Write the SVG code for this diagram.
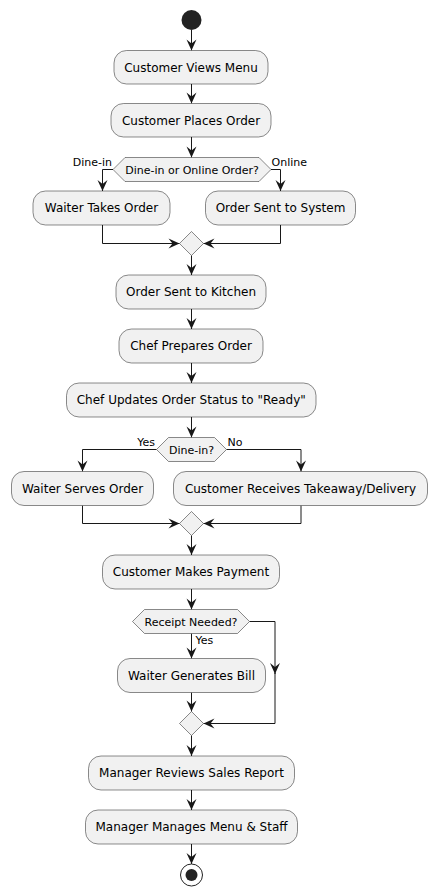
<svg xmlns="http://www.w3.org/2000/svg" width="437" height="896" viewBox="0 0 437 896">
<style>
.box{fill:#F1F1F1;stroke:#181818;stroke-width:0.5}
.hex{fill:#F1F1F1;stroke:#181818;stroke-width:0.5}
.t{font-family:"DejaVu Sans",sans-serif;font-size:12px;fill:#000;text-anchor:middle}
.ht{font-family:"DejaVu Sans",sans-serif;font-size:11px;fill:#000;text-anchor:middle}
.lbl{font-family:"DejaVu Sans",sans-serif;font-size:11px;fill:#000}
.ln{fill:none;stroke:#181818;stroke-width:1}
.arr{fill:none;stroke:#181818;stroke-width:1;marker-end:url(#ah)}
</style>
<defs>
<marker id="ah" markerUnits="userSpaceOnUse" markerWidth="12" markerHeight="12" refX="11" refY="5" orient="auto" overflow="visible">
<path d="M0,0 L11,5 L0,10 L4,5 Z" fill="#181818"/>
</marker>
</defs>
<rect width="437" height="896" fill="#fff"/>
<g id="connectors">
<path class="arr" d="M191.5,30 V50.5"/>
<path class="arr" d="M191.5,84 V103.5"/>
<path class="arr" d="M191.5,137 V157.5"/>
<path class="arr" d="M113,169.5 H102.5 V191"/>
<path class="arr" d="M271,169.5 H280.5 V191"/>
<path class="arr" d="M102.5,225 V243.5 H179.5"/>
<path class="arr" d="M280.5,225 V243.5 H203.5"/>
<path class="arr" d="M191.5,255.5 V275"/>
<path class="arr" d="M191.5,309 V329"/>
<path class="arr" d="M191.5,363 V383"/>
<path class="arr" d="M191.5,417 V437.5"/>
<path class="arr" d="M156.5,449.5 H82.5 V471.5"/>
<path class="arr" d="M226.5,449.5 H301 V471.5"/>
<path class="arr" d="M82.5,505.5 V523.5 H179.5"/>
<path class="arr" d="M301,505.5 V523.5 H203.5"/>
<path class="arr" d="M191.5,535.5 V555"/>
<path class="arr" d="M191.5,589 V609.5"/>
<path class="arr" d="M191.5,633.5 V658.5"/>
<path class="arr" d="M191.5,692.5 V711.5"/>
<path class="arr" d="M249.5,621.5 H275 V674"/>
<path class="arr" d="M275,673 V723.5 H203.5"/>
<path class="arr" d="M191.5,735.5 V756"/>
<path class="arr" d="M191.5,790 V810"/>
<path class="arr" d="M191.5,844 V864"/>
<text class="lbl" x="112" y="166" text-anchor="end">Dine-in</text>
<text class="lbl" x="271.5" y="166">Online</text>
<text class="lbl" x="155" y="446" text-anchor="end">Yes</text>
<text class="lbl" x="227.5" y="446">No</text>
<text class="lbl" x="195.5" y="643.5">Yes</text>
</g>
<g id="start"><circle cx="191.5" cy="20" r="10" fill="#222"/></g>
<g id="n1"><rect class="box" x="114" y="50.5" width="154" height="33.5" rx="12.5"/><text class="t" x="191" y="71.5">Customer Views Menu</text></g>
<g id="n2"><rect class="box" x="111" y="103.5" width="160" height="33.5" rx="12.5"/><text class="t" x="191" y="124.5">Customer Places Order</text></g>
<g id="d1"><polygon class="hex" points="113,169.5 125,157.5 259,157.5 271,169.5 259,181.5 125,181.5"/><text class="ht" x="192" y="173.5">Dine-in or Online Order?</text></g>
<g id="n3"><rect class="box" x="33" y="191" width="137" height="34" rx="12.5"/><text class="t" x="101.5" y="212">Waiter Takes Order</text></g>
<g id="n4"><rect class="box" x="205.5" y="191" width="150" height="34" rx="12.5"/><text class="t" x="280.5" y="212">Order Sent to System</text></g>
<g id="m1"><polygon class="hex" points="191.5,231.5 203.5,243.5 191.5,255.5 179.5,243.5"/></g>
<g id="n5"><rect class="box" x="116" y="275" width="150" height="34" rx="12.5"/><text class="t" x="191" y="296">Order Sent to Kitchen</text></g>
<g id="n6"><rect class="box" x="119" y="329" width="144" height="34" rx="12.5"/><text class="t" x="191" y="350">Chef Prepares Order</text></g>
<g id="n7"><rect class="box" x="66.5" y="383" width="249.5" height="34" rx="12.5"/><text class="t" x="191.25" y="404">Chef Updates Order Status to "Ready"</text></g>
<g id="d2"><polygon class="hex" points="156.5,449.5 168.5,437.5 214.5,437.5 226.5,449.5 214.5,461.5 168.5,461.5"/><text class="ht" x="191.5" y="453.5">Dine-in?</text></g>
<g id="n8"><rect class="box" x="11.5" y="471.5" width="142" height="34" rx="12.5"/><text class="t" x="82.5" y="492.5">Waiter Serves Order</text></g>
<g id="n9"><rect class="box" x="173.5" y="471.5" width="254" height="34" rx="12.5"/><text class="t" x="300.5" y="492.5">Customer Receives Takeaway/Delivery</text></g>
<g id="m2"><polygon class="hex" points="191.5,511.5 203.5,523.5 191.5,535.5 179.5,523.5"/></g>
<g id="n10"><rect class="box" x="102.5" y="555" width="177" height="34" rx="12.5"/><text class="t" x="191" y="576">Customer Makes Payment</text></g>
<g id="d3"><polygon class="hex" points="132.5,621.5 144.5,609.5 237.5,609.5 249.5,621.5 237.5,633.5 144.5,633.5"/><text class="ht" x="191" y="625.5">Receipt Needed?</text></g>
<g id="n11"><rect class="box" x="117.5" y="658.5" width="148" height="34" rx="12.5"/><text class="t" x="191.5" y="679.5">Waiter Generates Bill</text></g>
<g id="m3"><polygon class="hex" points="191.5,711.5 203.5,723.5 191.5,735.5 179.5,723.5"/></g>
<g id="n12"><rect class="box" x="88.5" y="756" width="206" height="34" rx="12.5"/><text class="t" x="191.5" y="777">Manager Reviews Sales Report</text></g>
<g id="n13"><rect class="box" x="85.5" y="810" width="212" height="34" rx="12.5"/><text class="t" x="191.5" y="831">Manager Manages Menu &amp; Staff</text></g>
<g id="end"><circle cx="191.5" cy="875" r="11" fill="none" stroke="#222" stroke-width="1"/><circle cx="191.5" cy="875" r="6" fill="#222"/></g>
</svg>
